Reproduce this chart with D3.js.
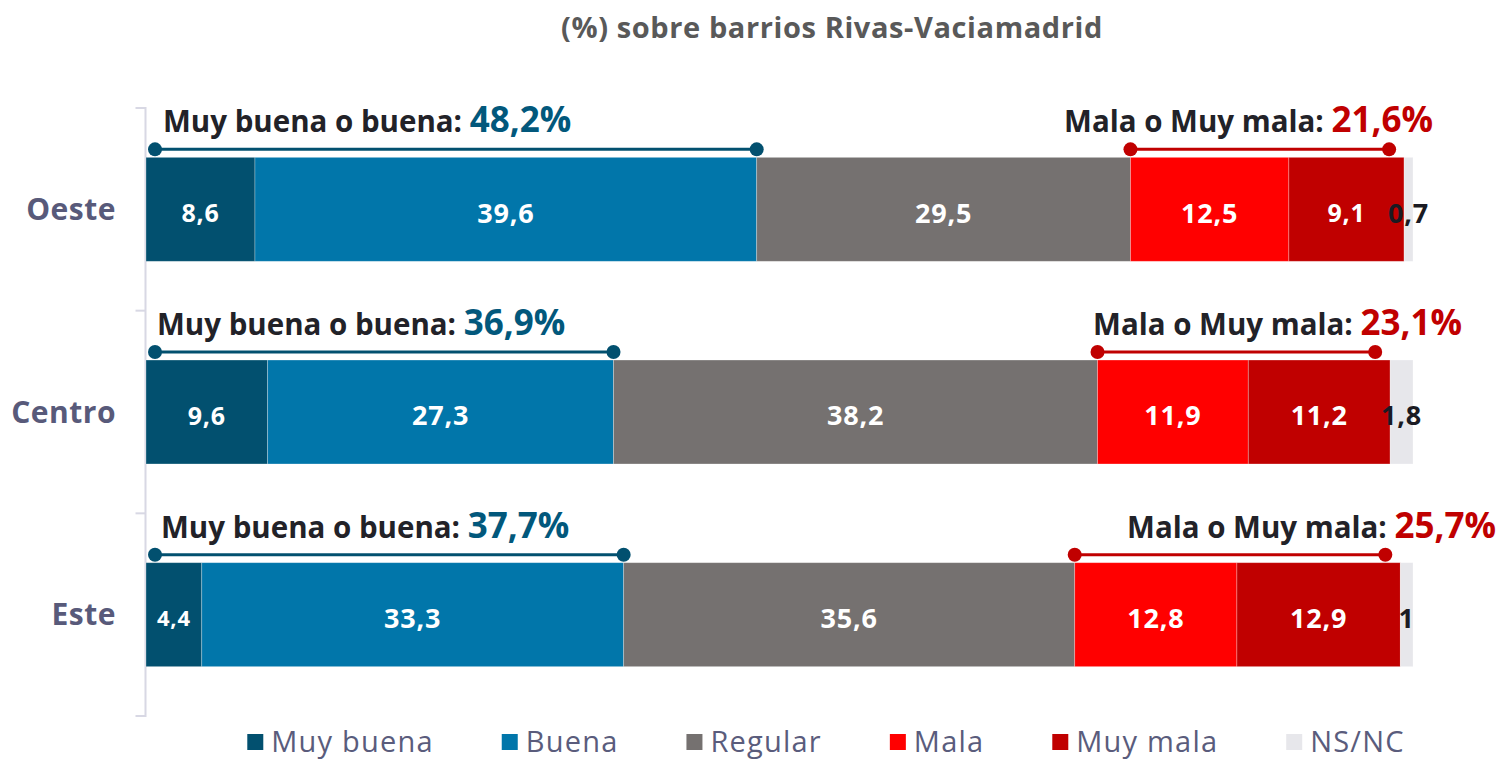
<!DOCTYPE html>
<html lang="es">
<head>
<meta charset="UTF-8">
<title>Rivas-Vaciamadrid</title>
<script src="https://cdn.jsdelivr.net/npm/d3@7"></script>
<style>
  body { margin: 0; background: #fff; }
  svg { display: block; }
</style>
</head>
<body>
<div id="chart"></div>
<script>
// data
var barrios = ["Oeste", "Centro", "Este"];
var categorias = ["Muy buena", "Buena", "Regular", "Mala", "Muy mala", "NS/NC"];
var muyBuena = [8.6, 9.6, 4.4];
var buena    = [39.6, 27.3, 33.3];
var regular  = [29.5, 38.2, 35.6];
var mala     = [12.5, 11.9, 12.8];
var muyMala  = [9.1, 11.2, 12.9];
var nsnc     = [0.7, 1.8, 1];
var totalBuena = ["48,2%", "36,9%", "37,7%"];
var totalMala  = ["21,6%", "23,1%", "25,7%"];

var colores = ["#02506f", "#0176aa", "#757170", "#ff0000", "#c00000", "#e7e7eb"];
var series = [muyBuena, buena, regular, mala, muyMala, nsnc];

var W = 1504, H = 761;
var svg = d3.select("#chart").append("svg").attr("width", W).attr("height", H)
  .style("font-family", "'Open Sans', Lato, sans-serif");

// scales
var x = d3.scaleLinear().domain([0, 100]).range([146, 1413]);
var y = d3.scaleBand().domain(barrios).range([108, 716]).padding(0);
var barH = y.bandwidth() * 0.513;

// title
svg.append("text").attr("x", 832).attr("y", 38).attr("text-anchor", "middle")
  .attr("font-size", 29).attr("font-weight", 700).attr("fill", "#595959")
  .attr("letter-spacing", 0.6)
  .text("(%) sobre barrios Rivas-Vaciamadrid");

// axis line with ticks
var axis = svg.append("g").attr("transform", "translate(145.5,0)")
  .call(d3.axisLeft(y).tickSize(0).tickFormat(""));
axis.select(".domain").attr("stroke", "#d8d8e4").attr("stroke-width", 2)
  .attr("d", "M-10," + y.range()[0] + "H0V" + y.range()[1] + "H-10");
barrios.forEach(function(b, i) {
  if (i > 0) axis.append("line").attr("x1", -10).attr("x2", 0)
    .attr("y1", y(b)).attr("y2", y(b)).attr("stroke", "#d8d8e4").attr("stroke-width", 2);
});

// category labels
svg.selectAll(".cat").data(barrios).enter().append("text")
  .attr("x", 116).attr("y", function(d) { return y(d) + y.bandwidth() / 2; })
  .attr("dy", "0.35em").attr("text-anchor", "end")
  .attr("font-size", 30).attr("font-weight", 700).attr("fill", "#585a7a")
  .attr("letter-spacing", 0.5)
  .text(function(d) { return d; });

// stacked rows
var rows = barrios.map(function(b, i) {
  var obj = { barrio: b };
  categorias.forEach(function(c, j) { obj[c] = series[j][i]; });
  return obj;
});
var stack = d3.stack().keys(categorias)(rows);

var fmt = function(v) { return String(v).replace(".", ","); };

stack.forEach(function(layer) {
  var j = layer.index, key = layer.key;
  var g = svg.append("g");
  g.selectAll("rect").data(layer).enter().append("rect")
    .attr("x", function(d) { return x(d[0]); })
    .attr("y", function(d) { return y(d.data.barrio) + y.bandwidth() / 2 - barH / 2; })
    .attr("width", function(d) { return x(d[1]) - x(d[0]); })
    .attr("height", barH)
    .attr("fill", colores[j])
    .attr("stroke", "rgba(255,255,255,0.35)").attr("stroke-width", 0.8);
  g.selectAll("text").data(layer).enter().append("text")
    .attr("x", function(d) { return (x(d[0]) + x(d[1])) / 2; })
    .attr("y", function(d) { return y(d.data.barrio) + y.bandwidth() / 2 + 4; })
    .attr("dy", "0.35em").attr("text-anchor", "middle")
    .attr("font-weight", 700).attr("letter-spacing", 0.8)
    .attr("font-size", function(d) { var v = d.data[key]; return (v < 5 && j === 0) ? 22 : (v < 10 && j < 5 ? 25 : 27); })
    .attr("fill", j === 5 ? "#1a1a22" : "#fff")
    .text(function(d) { return fmt(d.data[key]); });
});

// brackets
var blueOff = [17, 11, 15];
var redOff = [20, 49, 83];
rows.forEach(function(r, i) {
  var top = y(r.barrio) + y.bandwidth() / 2 - barH / 2;
  var by = top - 8;
  var good = r["Muy buena"] + r["Buena"];
  var badStart = good + r["Regular"];
  var badEnd = badStart + r["Mala"] + r["Muy mala"];
  var brackets = [
    { x1: x(0) + 9, x2: x(good), c: "#02506f" },
    { x1: x(badStart), x2: x(badEnd) - 15, c: "#c00000" }
  ];
  brackets.forEach(function(b) {
    svg.append("line").attr("x1", b.x1).attr("x2", b.x2).attr("y1", by).attr("y2", by)
      .attr("stroke", b.c).attr("stroke-width", 3);
    [b.x1, b.x2].forEach(function(cx) {
      svg.append("circle").attr("cx", cx).attr("cy", by).attr("r", 7).attr("fill", b.c);
    });
  });
  var t1 = svg.append("text").attr("x", x(0) + blueOff[i]).attr("y", by - 17)
    .attr("font-weight", 700).attr("fill", "#222228");
  t1.append("tspan").attr("font-size", 29.5).text("Muy buena o buena: ");
  t1.append("tspan").attr("font-size", 35).attr("font-weight", 700).attr("fill", "#02587c").text(totalBuena[i]);
  var t2 = svg.append("text").attr("x", x(100) + redOff[i]).attr("y", by - 17)
    .attr("text-anchor", "end").attr("font-weight", 700).attr("fill", "#222228");
  t2.append("tspan").attr("font-size", 29.5).text("Mala o Muy mala: ");
  t2.append("tspan").attr("font-size", 35).attr("font-weight", 700).attr("fill", "#c00000").text(totalMala[i]);
});

// legend
var lg = svg.append("g");
var lx = 0;
categorias.forEach(function(c, j) {
  var it = lg.append("g").attr("transform", "translate(" + lx + ",0)");
  it.append("rect").attr("x", 0).attr("y", -8).attr("width", 16).attr("height", 16).attr("fill", colores[j]);
  var t = it.append("text").attr("x", 24).attr("y", 0).attr("dy", "0.35em")
    .attr("font-size", 29).attr("font-weight", 400).attr("letter-spacing", 1.2)
    .attr("fill", "#5a5c7c").text(c);
  lx += 24 + t.node().getComputedTextLength() + 68;
});
var lw = lx - 68;
lg.attr("transform", "translate(" + (826 - lw / 2) + ",742)");
</script>
</body>
</html>
